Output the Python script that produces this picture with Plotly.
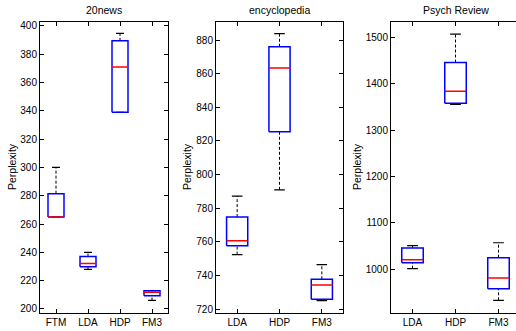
import plotly.graph_objects as go

# ---------------- data ----------------
news_cats = ["FTM", "LDA", "HDP", "FM3"]
news_lo = [265, 228, 339, 206]
news_q1 = [265, 229.8, 339, 209.4]
news_med = [265, 232.2, 371, 211.8]
news_q3 = [281.5, 237, 389.5, 212.9]
news_hi = [300, 240, 394.7, 212.9]

enc_cats = ["LDA", "HDP", "FM3"]
enc_lo = [752.5, 791, 725.2]
enc_q1 = [757.7, 825.5, 726]
enc_med = [760.8, 863.4, 734.5]
enc_q3 = [774.8, 876, 737.8]
enc_hi = [787.3, 883.8, 746.5]

psy_cats = ["LDA", "HDP", "FM3"]
psy_lo = [1000.7, 1355.7, 932.4]
psy_q1 = [1013.7, 1358.6, 957.6]
psy_med = [1020.1, 1384.3, 980.6]
psy_q3 = [1045.3, 1446.4, 1024.5]
psy_hi = [1050.4, 1507.9, 1056.8]

titles = ["20news", "encyclopedia", "Psych Review"]
y_label = "Perplexity"

W, H = 516, 331
FONT = "Liberation Sans, Arial, Helvetica, sans-serif"

fig = go.Figure()

BOX_HW = 0.25
CAP_HW = 0.125


def add_panel(k, cats, lo, q1, med, q3, hi):
    xa = "x" if k == 1 else f"x{k}"
    ya = "y" if k == 1 else f"y{k}"
    pos = list(range(1, len(cats) + 1))
    # whiskers
    wx, wy = [], []
    for p, l, a, b, h in zip(pos, lo, q1, q3, hi):
        wx += [p, p, None, p, p, None]
        wy += [b, h, None, l, a, None]
    fig.add_trace(go.Scatter(x=wx, y=wy, mode="lines", xaxis=xa, yaxis=ya,
                             line=dict(color="black", width=1, dash="3px,2px"),
                             hoverinfo="skip", showlegend=False))
    # caps
    cx, cy = [], []
    for p, l, h in zip(pos, lo, hi):
        cx += [p - CAP_HW, p + CAP_HW, None, p - CAP_HW, p + CAP_HW, None]
        cy += [h, h, None, l, l, None]
    fig.add_trace(go.Scatter(x=cx, y=cy, mode="lines", xaxis=xa, yaxis=ya,
                             line=dict(color="black", width=1.2),
                             hoverinfo="skip", showlegend=False))
    # boxes
    bx, by = [], []
    for p, a, b in zip(pos, q1, q3):
        bx += [p - BOX_HW, p + BOX_HW, p + BOX_HW, p - BOX_HW, p - BOX_HW, None]
        by += [a, a, b, b, a, None]
    fig.add_trace(go.Scatter(x=bx, y=by, mode="lines", xaxis=xa, yaxis=ya,
                             line=dict(color="#0000ff", width=1.5),
                             hoverinfo="skip", showlegend=False))
    # medians
    mx, my = [], []
    for p, m in zip(pos, med):
        mx += [p - BOX_HW, p + BOX_HW, None]
        my += [m, m, None]
    fig.add_trace(go.Scatter(x=mx, y=my, mode="lines", xaxis=xa, yaxis=ya,
                             line=dict(color="#ff0000", width=1.5),
                             hoverinfo="skip", showlegend=False))
    return pos


p1 = add_panel(1, news_cats, news_lo, news_q1, news_med, news_q3, news_hi)
p2 = add_panel(2, enc_cats, enc_lo, enc_q1, enc_med, enc_q3, enc_hi)
p3 = add_panel(3, psy_cats, psy_lo, psy_q1, psy_med, psy_q3, psy_hi)

ytop = 1 - 22 / H
ybot = 1 - 312.5 / H
tickfont = dict(family=FONT, size=10, color="black")

common_axis = dict(showline=True, linecolor="black", linewidth=1, ticks="inside",
                   ticklen=4, tickcolor="black", tickwidth=1, showgrid=False,
                   zeroline=False, tickfont=tickfont, automargin=False)

layout = dict(
    width=W, height=H,
    margin=dict(l=0, r=0, t=0, b=0, pad=0),
    paper_bgcolor="white", plot_bgcolor="white",
    showlegend=False,
    font=dict(family=FONT, size=10, color="black"),
)

panels = [
    (1, [40, 168], [0.5, 4.5], p1, news_cats, [197.5, 402.8], [200, 220, 240, 260, 280, 300, 320, 340, 360, 380, 400], True),
    (2, [216, 343], [0.5, 3.5], p2, enc_cats, [718.1, 890.7], [720, 740, 760, 780, 800, 820, 840, 860, 880], True),
    (3, [391, 516], [0.5, 0.5 + 125 / 43], p3, psy_cats, [906, 1534], [1000, 1100, 1200, 1300, 1400, 1500], False),
]

for k, dom, xr, pos, cats, yr, yt, mir in panels:
    xn = "xaxis" if k == 1 else f"xaxis{k}"
    yn = "yaxis" if k == 1 else f"yaxis{k}"
    anchor_y = "y" if k == 1 else f"y{k}"
    anchor_x = "x" if k == 1 else f"x{k}"
    layout[xn] = dict(common_axis, domain=[dom[0] / W, dom[1] / W], range=xr,
                      tickvals=pos, ticktext=cats, mirror="ticks", anchor=anchor_y,
                      fixedrange=True)
    layout[yn] = dict(common_axis, domain=[ybot, ytop], range=yr, tickvals=yt,
                      mirror="ticks" if mir else False, anchor=anchor_x,
                      fixedrange=True)

fig.update_layout(**layout)

centers = [(40 + 168) / 2, (216 + 343) / 2, (391 + 520) / 2]
ylab_x = [12, 187, 357]
for t, cx, lx in zip(titles, centers, ylab_x):
    fig.add_annotation(text=t, x=cx / W, y=1 - 10 / H, xref="paper", yref="paper",
                       showarrow=False, xanchor="center", yanchor="middle",
                       font=dict(family=FONT, size=10.5, color="black"))
    fig.add_annotation(text=y_label, x=lx / W, y=1 - 167 / H, xref="paper", yref="paper",
                       showarrow=False, xanchor="center", yanchor="middle", textangle=-90,
                       font=dict(family=FONT, size=10.5, color="black"))

fig.write_html(
    "out.html",
    config={"displayModeBar": False, "staticPlot": True},
    post_script="document.body.style.margin='0px';document.body.style.overflow='hidden';",
)
